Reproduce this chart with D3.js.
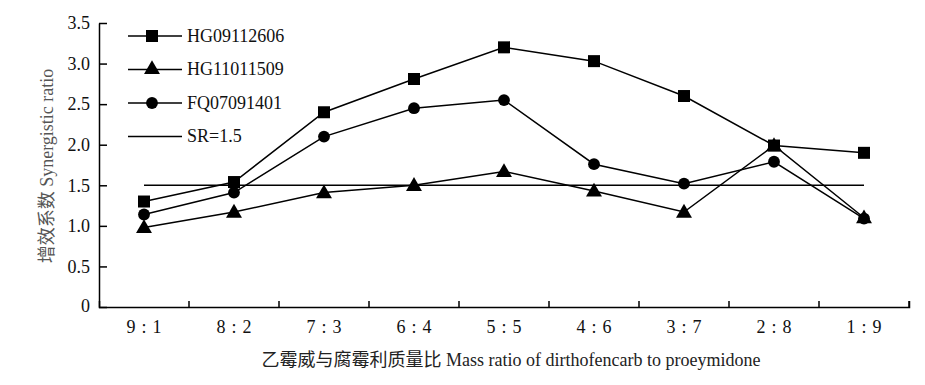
<!DOCTYPE html>
<html>
<head>
<meta charset="utf-8">
<script src="https://cdn.jsdelivr.net/npm/d3@7"></script>
<style>
  body { margin: 0; background: #fff; }
  svg text { font-family: "Liberation Serif", "Times New Roman", "Noto Sans CJK SC", serif; }
</style>
</head>
<body>
<svg></svg>
<script>
// chart values
let ratios = ['9 : 1', '8 : 2', '7 : 3', '6 : 4', '5 : 5', '4 : 6', '3 : 7', '2 : 8', '1 : 9'];
let hg09112606 = [1.30, 1.54, 2.40, 2.81, 3.20, 3.03, 2.60, 1.99, 1.90];
let hg11011509 = [0.98, 1.17, 1.41, 1.50, 1.67, 1.43, 1.17, 1.99, 1.10];
let fq07091401 = [1.14, 1.41, 2.10, 2.45, 2.55, 1.76, 1.52, 1.79, 1.09];
let srLevel = 1.5;
let yTicks = [0, 0.5, 1.0, 1.5, 2.0, 2.5, 3.0, 3.5];

let width = 925;
let height = 385;
let margin = {left: 99, right: 16, top: 23, bottom: 78};
let serif = '"Liberation Serif", "Times New Roman", "Noto Sans CJK SC", serif';

let svg = d3.select('svg')
    .attr('width', width)
    .attr('height', height);

let xScale = d3.scaleBand()
    .domain(ratios)
    .range([margin.left, width - margin.right]);

let yScale = d3.scaleLinear()
    .domain([0, 3.5])
    .range([height - margin.bottom, margin.top]);

let series = [
    {name: 'HG09112606', values: hg09112606, symbol: d3.symbolSquare, size: 144},
    {name: 'HG11011509', values: hg11011509, symbol: d3.symbolTriangle, size: 110},
    {name: 'FQ07091401', values: fq07091401, symbol: d3.symbolCircle, size: 110}
];

let cx = function(d, i) { return xScale(ratios[i]) + xScale.bandwidth() / 2; };

// x axis: baseline with small inward ticks on the band edges
let xAxis = d3.axisBottom(xScale).tickSizeOuter(-6).tickFormat('');
let xG = svg.append('g')
    .attr('transform', `translate(0, ${yScale(0)})`)
    .call(xAxis);
xG.selectAll('.tick').remove();
xG.selectAll('.edge')
    .data(ratios)
    .enter()
    .append('line')
    .attr('x1', function(d) { return xScale(d) + xScale.bandwidth(); })
    .attr('x2', function(d) { return xScale(d) + xScale.bandwidth(); })
    .attr('y1', 0)
    .attr('y2', -6)
    .attr('stroke', '#000')
    .attr('stroke-width', 1.5);
xG.select('.domain').attr('stroke-width', 1.5);

svg.append('g')
    .selectAll('text')
    .data(ratios)
    .enter()
    .append('text')
    .attr('x', function(d) { return xScale(d) + xScale.bandwidth() / 2; })
    .attr('y', yScale(0) + 26)
    .attr('text-anchor', 'middle')
    .attr('font-size', 18)
    .attr('fill', '#111')
    .style('font-family', serif)
    .style('white-space', 'pre')
    .text(function(d) { return d.replace(/ /g, '\u2004'); });

// y axis with inward ticks
let yAxis = d3.axisLeft(yScale)
    .tickValues(yTicks)
    .tickSizeInner(-8)
    .tickSizeOuter(0)
    .tickPadding(9)
    .tickFormat(function(d) { return d === 0 ? '0' : d3.format('.1f')(d); });
let yG = svg.append('g')
    .attr('transform', `translate(${margin.left}, 0)`)
    .call(yAxis);
yG.select('.domain').attr('stroke-width', 1.5);
yG.selectAll('.tick line').attr('stroke-width', 1.5);
yG.selectAll('.tick text')
    .attr('font-size', 18)
    .attr('fill', '#111')
    .style('font-family', serif);
yG.select('.tick text').attr('dy', '0.25em');

// SR reference line
svg.append('line')
    .attr('x1', cx(null, 0))
    .attr('x2', cx(null, ratios.length - 1))
    .attr('y1', yScale(srLevel))
    .attr('y2', yScale(srLevel))
    .attr('stroke', '#000')
    .attr('stroke-width', 1.5);

// lines and markers
let line = d3.line()
    .x(cx)
    .y(function(d) { return yScale(d); });

series.forEach(function(s) {
    svg.append('path')
        .datum(s.values)
        .attr('d', line)
        .attr('fill', 'none')
        .attr('stroke', '#000')
        .attr('stroke-width', 1.5);

    svg.append('g')
        .selectAll('path')
        .data(s.values)
        .enter()
        .append('path')
        .attr('transform', function(d, i) {
            let dy = s.symbol === d3.symbolTriangle ? 1 : 0;
            return `translate(${cx(d, i)}, ${yScale(d) + dy})`;
        })
        .attr('d', d3.symbol().type(s.symbol).size(s.size))
        .attr('fill', '#000');
});

// legend
let legend = svg.append('g').attr('transform', 'translate(128, 36)');
let legendItems = series.map(function(s) { return {name: s.name, symbol: s.symbol, size: s.size}; });
legendItems.push({name: 'SR=1.5', symbol: null});

let rows = legend.selectAll('g')
    .data(legendItems)
    .enter()
    .append('g')
    .attr('transform', function(d, i) { return `translate(0, ${i * 33.5})`; });

rows.append('line')
    .attr('x1', 0)
    .attr('x2', 54)
    .attr('stroke', '#000')
    .attr('stroke-width', 1.5);

rows.filter(function(d) { return d.symbol; })
    .append('path')
    .attr('transform', 'translate(24, 0)')
    .attr('d', function(d) { return d3.symbol().type(d.symbol).size(d.size)(); })
    .attr('fill', '#000');

rows.append('text')
    .attr('x', 59)
    .attr('dy', '0.33em')
    .attr('font-size', 18)
    .attr('fill', '#111')
    .style('font-family', serif)
    .text(function(d) { return d.name; });

// axis titles
svg.append('text')
    .attr('transform', 'translate(53, 166) rotate(-90)')
    .attr('text-anchor', 'middle')
    .attr('font-size', 18)
    .attr('fill', '#555')
    .style('font-family', serif)
    .text('增效系数 Synergistic ratio');

svg.append('text')
    .attr('x', 511)
    .attr('y', 366)
    .attr('text-anchor', 'middle')
    .attr('font-size', 18)
    .attr('fill', '#222')
    .style('font-family', serif)
    .text('乙霉威与腐霉利质量比 Mass ratio of dirthofencarb to proeymidone');
</script>
</body>
</html>
